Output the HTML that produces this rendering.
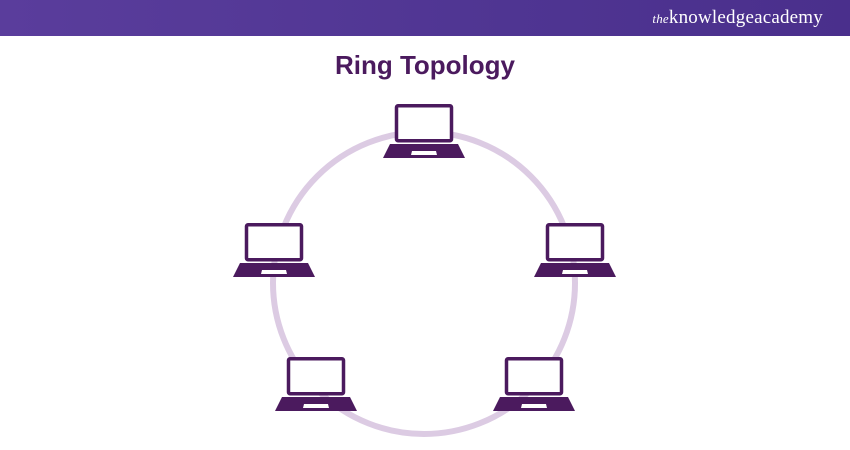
<!DOCTYPE html>
<html><head><style>
body{margin:0;width:850px;height:450px;background:#fff;overflow:hidden;position:relative;font-family:"Liberation Sans",sans-serif}
.hdr{position:absolute;left:0;top:0;width:850px;height:36px;background:linear-gradient(90deg,#5a3d9c,#4f3592 60%,#4a2f8c)}
.logo{position:absolute;right:27px;top:7px;color:#fff;font-family:"Liberation Serif",serif;font-size:19px;letter-spacing:0.2px}
.logo i{font-size:13px}
h1{position:absolute;left:0;width:850px;top:50px;margin:0;text-align:center;color:#4b1a5e;font-size:26px;font-weight:bold}
</style></head><body>
<div class="hdr"></div>
<div class="logo"><i>the</i>knowledge<b style="font-weight:normal">academy</b></div>
<h1>Ring Topology</h1>
<svg width="850" height="450" style="position:absolute;left:0;top:0">
<defs>
<g id="lap">
<rect x="-27.5" y="1.75" width="55" height="35" fill="#fff" stroke="#4b1a5e" stroke-width="3.5" rx="1.5"/>
<path d="M-34 40 H34 L41 54 H-41 Z" fill="#4b1a5e"/>
<path d="M-12 47 H12 L13 51 H-13 Z" fill="#fff"/>
</g>
</defs>
<circle cx="424" cy="283" r="151" fill="none" stroke="#dccbe3" stroke-width="6"/>
<use href="#lap" x="424" y="104"/>
<use href="#lap" x="274" y="223"/>
<use href="#lap" x="575" y="223"/>
<use href="#lap" x="316" y="357"/>
<use href="#lap" x="534" y="357"/>
</svg>
</body></html>
